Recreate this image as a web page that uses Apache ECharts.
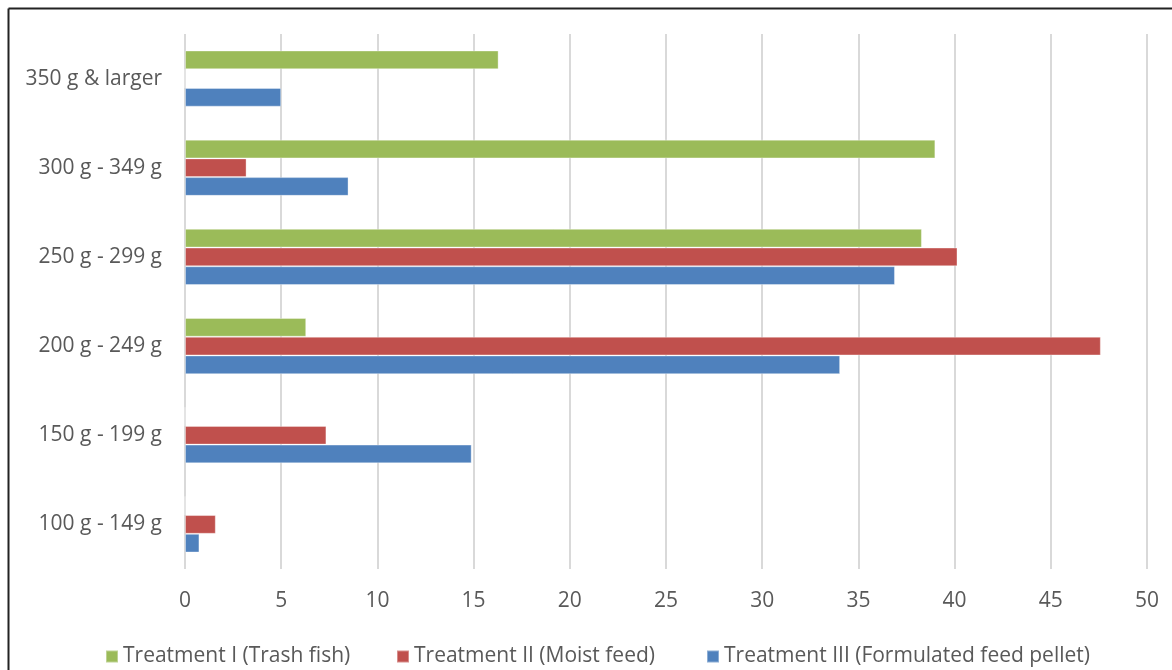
<!DOCTYPE html>
<html>
<head>
<meta charset="utf-8">
<script src="https://cdn.jsdelivr.net/npm/echarts@6/dist/echarts.min.js"></script>
<style>
html,body{margin:0;padding:0;background:#fff;}
#c{width:1172px;height:670px;}
</style>
</head>
<body>
<div id="c"></div>
<script>
const categories = ['100 g - 149 g', '150 g - 199 g', '200 g - 249 g', '250 g - 299 g', '300 g - 349 g', '350 g & larger'];
const treatmentI = [0, 0, 6.3, 38.3, 39.0, 16.3];
const treatmentII = [1.6, 7.35, 47.6, 40.15, 3.2, 0];
const treatmentIII = [0.75, 14.9, 34.05, 36.9, 8.5, 5.0];
const seriesNames = ['Treatment I (Trash fish)', 'Treatment II (Moist feed)', 'Treatment III (Formulated feed pellet)'];
const xTicks = {min: 0, max: 50, interval: 5};

const font = 'Open Sans';
const chart = echarts.init(document.getElementById('c'));
const legendBase = {
  bottom: -2, itemWidth: 12, itemHeight: 12, icon: 'rect', itemGap: 6,
  textStyle: {fontFamily: font, fontSize: 21, color: '#595959'}
};
const barStyle = (c) => ({color: c, borderColor: 'rgba(255,255,255,0.35)', borderWidth: 1});
chart.setOption({
  animation: false,
  backgroundColor: '#fff',
  grid: {left: 185, right: 25, top: 34, bottom: 101, containLabel: false},
  xAxis: {
    type: 'value', min: xTicks.min, max: xTicks.max, interval: xTicks.interval,
    axisLine: {show: false}, axisTick: {show: false},
    splitLine: {show: true, lineStyle: {color: '#d9d9d9', width: 2}},
    axisLabel: {fontFamily: font, fontSize: 21, color: '#595959', margin: 22}
  },
  yAxis: {
    type: 'category', data: categories,
    axisLine: {show: false}, axisTick: {show: false},
    axisLabel: {fontFamily: font, fontSize: 21, color: '#595959', margin: 23}
  },
  legend: [
    Object.assign({}, legendBase, {left: 100, data: [seriesNames[0]]}),
    Object.assign({}, legendBase, {left: 391, data: [seriesNames[1]]}),
    Object.assign({}, legendBase, {left: 701, data: [seriesNames[2]]})
  ],
  graphic: [
    {type: 'line', shape: {x1: 8.5, y1: 8.5, x2: 1172, y2: 8.5}, style: {stroke: '#222', lineWidth: 2}},
    {type: 'line', shape: {x1: 8.5, y1: 8.5, x2: 8.5, y2: 670}, style: {stroke: '#222', lineWidth: 2}}
  ],
  series: [
    {name: seriesNames[0], type: 'bar', data: treatmentI, itemStyle: barStyle('#9BBB59'), barGap: '0%', barCategoryGap: '37%'},
    {name: seriesNames[1], type: 'bar', data: treatmentII, itemStyle: barStyle('#C0504D'), barGap: '0%', barCategoryGap: '37%'},
    {name: seriesNames[2], type: 'bar', data: treatmentIII, itemStyle: barStyle('#4F81BD'), barGap: '0%', barCategoryGap: '37%'}
  ]
});
</script>
</body>
</html>
